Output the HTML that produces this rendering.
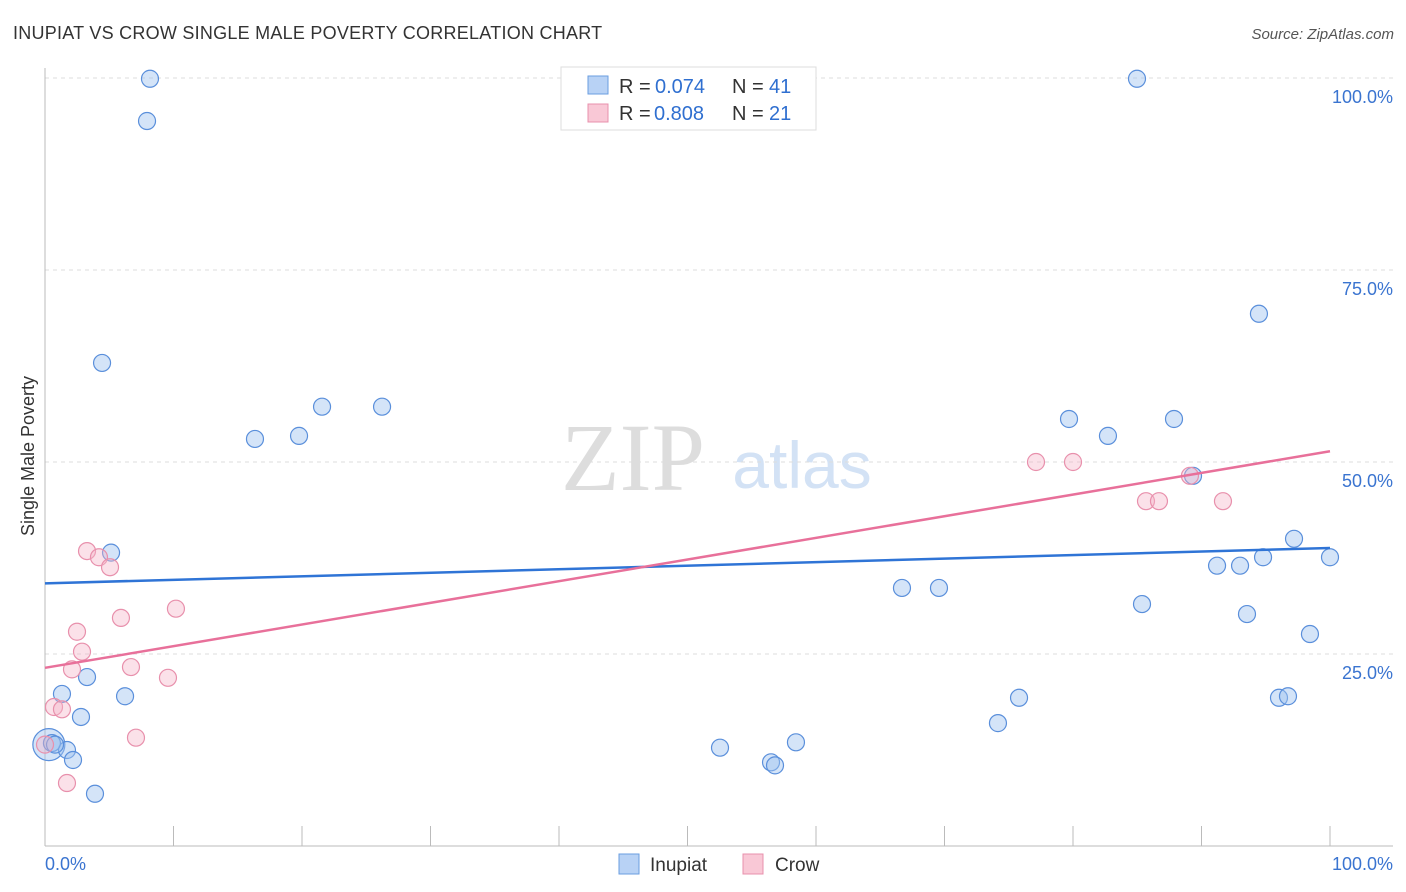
<!DOCTYPE html>
<html><head><meta charset="utf-8"><style>
body{margin:0;background:#fff;font-family:"Liberation Sans",sans-serif}
svg{display:block}
</style></head><body>
<svg id="c" width="1406" height="892">
<text x="13" y="39" font-size="18" fill="#333" letter-spacing="0.25">INUPIAT VS CROW SINGLE MALE POVERTY CORRELATION CHART</text>
<text x="1394" y="39" font-size="15" fill="#555" font-style="italic" text-anchor="end">Source: ZipAtlas.com</text>
<text x="633" y="490" font-size="96" fill="#ddd" font-family="Liberation Serif" text-anchor="middle">ZIP</text>
<text x="802" y="488" font-size="66" fill="#d3e2f5" text-anchor="middle">atlas</text>
<text transform="translate(34,456) rotate(-90)" font-size="18" fill="#333" text-anchor="middle">Single Male Poverty</text>
<g id="grid"></g><g id="marks"></g>
<g>
<rect x="561" y="67" width="255" height="63" fill="#fff" stroke="#ddd"/>
<rect x="588" y="76" width="20" height="18" fill="#b8d2f5" stroke="#6a9ee0"/>
<text x="619" y="93" font-size="20" fill="#333">R =</text><text x="655" y="93" font-size="20" fill="#2f6fd0">0.074</text>
<text x="732" y="93" font-size="20" fill="#333">N =</text><text x="769" y="93" font-size="20" fill="#2f6fd0">41</text>
<rect x="588" y="104" width="20" height="18" fill="#f9c8d6" stroke="#e890ac"/>
<text x="619" y="120" font-size="20" fill="#333">R =</text><text x="654" y="120" font-size="20" fill="#2f6fd0">0.808</text>
<text x="732" y="120" font-size="20" fill="#333">N =</text><text x="769" y="120" font-size="20" fill="#2f6fd0">21</text>
</g>
<g>
<rect x="619" y="854" width="20" height="20" fill="#b8d2f5" stroke="#6a9ee0"/>
<text x="650" y="871" font-size="19" fill="#333">Inupiat</text>
<rect x="743" y="854" width="20" height="20" fill="#f9c8d6" stroke="#e890ac"/>
<text x="775" y="871" font-size="19" fill="#333">Crow</text>
</g>
</svg>
<script>
const blueX=[8.17,7.94,4.44,5.14,16.34,19.77,21.56,26.23,3.27,1.32,6.23,2.80,1.71,2.18,3.89,0.54,0.78,52.53,56.50,56.81,58.44,74.16,75.80,66.69,69.57,79.69,82.72,84.98,87.86,89.34,85.37,91.21,93.0,94.79,97.20,100,93.54,94.47,98.44,96.03,96.73];
const blueY=[99.9,94.4,62.9,38.2,53.0,53.4,57.2,57.2,22.0,19.8,19.5,16.8,12.5,11.2,6.8,13.4,13.2,12.8,10.9,10.5,13.5,16.0,19.3,33.6,33.6,55.6,53.4,99.9,55.6,48.2,31.5,36.5,36.5,37.6,40.0,37.6,30.2,69.3,27.6,19.3,19.5];
const pinkX=[3.27,4.20,5.06,2.49,2.88,2.10,5.91,10.19,6.69,9.57,0.70,1.32,7.08,1.71,0,77.12,80.0,85.68,86.69,91.67,89.1];
const pinkY=[38.4,37.6,36.3,27.9,25.3,23.0,29.7,30.9,23.3,21.9,18.1,17.8,14.1,8.2,13.2,50.0,50.0,44.9,44.9,44.9,48.2];
const blueTrend=[34.2,38.8];
const pinkTrend=[23.2,51.4];
const yTicks=[25,50,75,100];
const yTickLabels=["25.0%","50.0%","75.0%","100.0%"];
const xTicks=[0,10,20,30,40,50,60,70,80,90,100];
const NS="http://www.w3.org/2000/svg";
const X=v=>45+v*12.85, Y=v=>846-v*7.68;
function mk(tag,attrs,parent){const e=document.createElementNS(NS,tag);for(const k in attrs)e.setAttribute(k,attrs[k]);parent.appendChild(e);return e;}
const g=document.getElementById('grid'), m=document.getElementById('marks');
yTicks.forEach((t,i)=>{
  const l=mk('line',{x1:45,x2:1393,y1:Y(t),y2:Y(t),stroke:'#ddd','stroke-dasharray':'4,4'},g);
  
  
  const tx=mk('text',{x:1393,y:Y(t)+25,'font-size':18,fill:'#3a74d0','text-anchor':'end'},g);
  tx.textContent=yTickLabels[i];
  
  
});
const ya=mk('line',{x1:45,x2:45,y1:68,y2:846,stroke:'#bbb'},g);


const xa=mk('line',{x1:45,x2:1393,y1:846,y2:846,stroke:'#bbb'},g);


xTicks.forEach(t=>{
  const l=mk('line',{x1:X(t),x2:X(t),y1:826,y2:846,stroke:'#bbb'},g);
  
  
});
[[0,'0.0%','start',45],[100,'100.0%','end',1393]].forEach(a=>{
  const tx=mk('text',{x:a[3],y:870,'font-size':18,fill:'#3a74d0','text-anchor':a[2]},g);
  tx.textContent=a[1];
  
  
});
const bb=mk('circle',{cx:X(0.3),cy:Y(13.2),r:16,fill:'rgba(160,195,240,0.45)',stroke:'#5a8fdb','stroke-width':1.2},m);


blueX.forEach((x,i)=>{
  const c=mk('circle',{cx:X(x),cy:Y(blueY[i]),r:8.5,fill:'rgba(160,195,240,0.45)',stroke:'#5a8fdb','stroke-width':1.2},m);
  
  
});
pinkX.forEach((x,i)=>{
  const c=mk('circle',{cx:X(x),cy:Y(pinkY[i]),r:8.5,fill:'rgba(245,180,200,0.4)',stroke:'#e890ac','stroke-width':1.2},m);
  
  
});
const bl=mk('line',{x1:X(0),x2:X(100),y1:Y(blueTrend[0]),y2:Y(blueTrend[1]),stroke:'#2f74d6','stroke-width':2.5},m);


const pl=mk('line',{x1:X(0),x2:X(100),y1:Y(pinkTrend[0]),y2:Y(pinkTrend[1]),stroke:'#e8709a','stroke-width':2.5},m);


</script>
</body></html>
